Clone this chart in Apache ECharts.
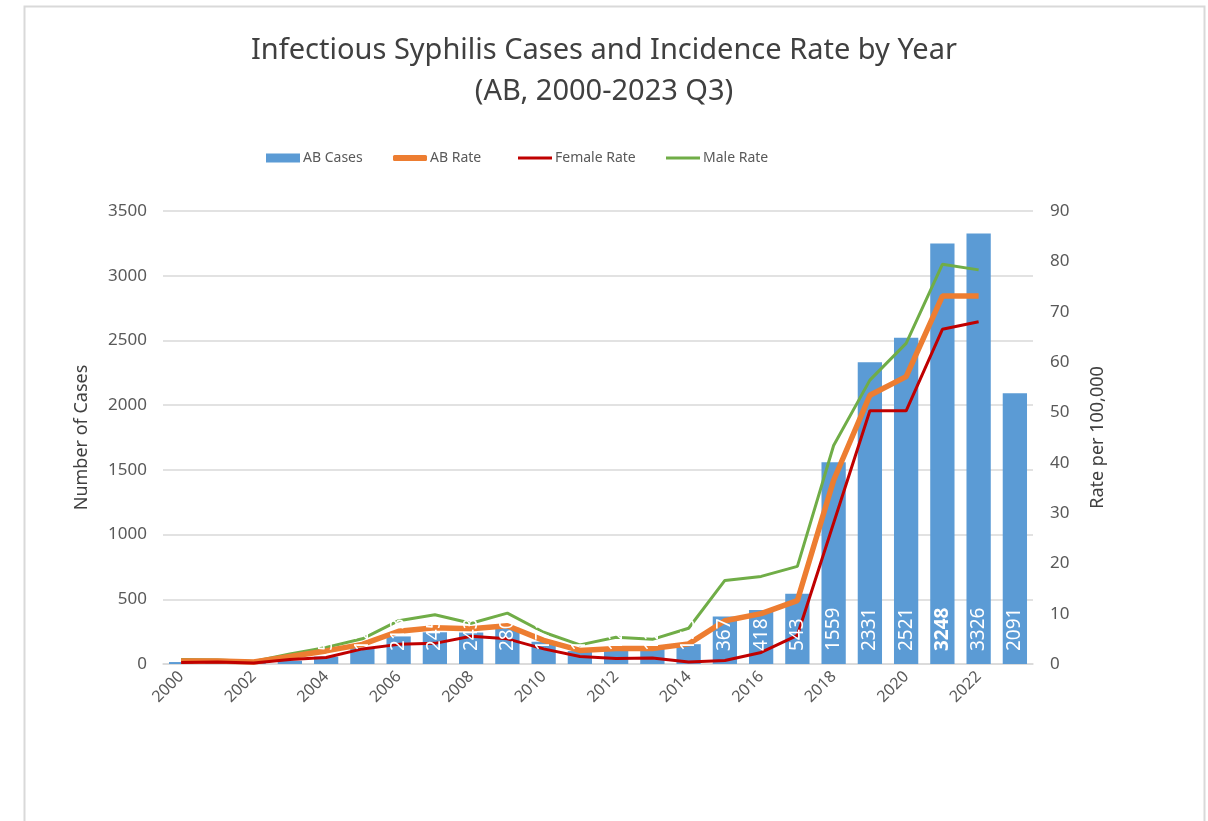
<!DOCTYPE html>
<html>
<head>
<meta charset="utf-8">
<script src="https://cdn.jsdelivr.net/npm/echarts@6/dist/echarts.min.js"></script>
<style>
html,body{margin:0;padding:0;background:#fff;}
#c{width:1208px;height:821px;}
</style>
</head>
<body>
<div id="c"></div>
<script>
const years = ['2000','2001','2002','2003','2004','2005','2006','2007','2008','2009','2010','2011','2012','2013','2014','2015','2016','2017','2018','2019','2020','2021','2022','2023'];
const abCases = [15,15,10,25,57,125,213,245,243,280,172,100,125,125,153,367,418,543,1559,2331,2521,3248,3326,2091];
const abRate = [0.6,0.6,0.4,1.5,2.6,3.9,6.5,7.2,7.0,7.6,4.7,2.7,3.1,3.1,4.0,8.6,10.0,12.6,36.5,53.4,57.1,73.1,73.1,null];
const femaleRate = [0.3,0.4,0.2,0.9,1.3,3.0,3.9,4.1,5.5,5.0,3.0,1.5,1.1,1.2,0.4,0.7,2.3,5.7,28.0,50.3,50.3,66.5,68.0,null];
const maleRate = [0.9,0.8,0.5,2.0,3.3,5.0,8.6,9.8,8.1,10.1,6.3,3.8,5.3,4.9,7.1,16.6,17.4,19.4,43.4,56.4,63.7,79.4,78.3,null];
const boldLabelYear = '2021';

const FONT = "'Noto Sans',sans-serif";
const chart = echarts.init(document.getElementById('c'), null, {renderer:'canvas'});

const labelData = abCases.map((v, i) => years[i] === boldLabelYear
  ? {value: v, label: {fontWeight: 'bold'}} : v);

const legendText = {fontFamily: FONT, fontSize: 14, color: '#595959', padding: [0,0,0,-2]};
function mkLegend(name, left, icon, h) {
  return {
    left: left, top: 151, icon: icon, itemWidth: 34, itemHeight: h, padding: 0,
    textStyle: legendText, data: [name], selectedMode: false
  };
}

chart.setOption({
  backgroundColor: '#fff',
  animation: false,
  textStyle: {fontFamily: FONT},
  title: {
    text: 'Infectious Syphilis Cases and Incidence Rate by Year\n(AB, 2000-2023 Q3)',
    left: 'center', top: 25,
    textStyle: {fontFamily: FONT, fontSize: 29, fontWeight: 'normal', color: '#404040', lineHeight: 41}
  },
  graphic: [{
    type: 'rect', left: 22, top: 4, z: -1, silent: true,
    shape: {width: 1180, height: 840},
    style: {fill: 'none', stroke: '#d9d9d9', lineWidth: 2}
  }],
  legend: [
    mkLegend('AB Cases', 266, 'rect', 9),
    mkLegend('AB Rate', 393, 'roundRect', 6),
    mkLegend('Female Rate', 518, 'rect', 3),
    mkLegend('Male Rate', 666, 'rect', 3)
  ],
  grid: {left: 163, right: 175, top: 211, bottom: 157, containLabel: false},
  xAxis: {
    type: 'category', data: years,
    axisLine: {lineStyle: {color: '#d9d9d9', width: 1.5}},
    axisTick: {show: false},
    axisLabel: {interval: 1, rotate: 45, fontSize: 16, color: '#595959', margin: 10, fontFamily: FONT}
  },
  yAxis: [{
    type: 'value', min: 0, max: 3500, interval: 500,
    name: 'Number of Cases', nameLocation: 'middle', nameGap: 72, nameRotate: 90,
    nameTextStyle: {fontSize: 18, color: '#404040', fontFamily: FONT},
    axisLine: {show: false}, axisTick: {show: false},
    axisLabel: {fontSize: 17, color: '#595959', margin: 16, fontFamily: FONT, formatter: v => String(v)},
    splitLine: {lineStyle: {color: '#d9d9d9', width: 1.5}}
  }, {
    type: 'value', min: 0, max: 90, interval: 10,
    name: 'Rate per 100,000', nameLocation: 'middle', nameGap: 56, nameRotate: 90,
    nameTextStyle: {fontSize: 18, color: '#404040', fontFamily: FONT},
    axisLine: {show: false}, axisTick: {show: false},
    axisLabel: {fontSize: 17, color: '#595959', margin: 17, fontFamily: FONT, formatter: v => String(v)},
    splitLine: {show: false}
  }],
  series: [{
    name: 'AB Cases', type: 'bar', data: abCases, yAxisIndex: 0,
    barCategoryGap: '33%', z: 2,
    itemStyle: {color: '#5b9bd5'}
  }, {
    name: 'AB Rate', type: 'line', data: abRate, yAxisIndex: 1,
    symbol: 'none', z: 4,
    lineStyle: {color: '#ed7d31', width: 5.5},
    itemStyle: {color: '#ed7d31'}
  }, {
    name: 'Female Rate', type: 'line', data: femaleRate, yAxisIndex: 1,
    symbol: 'none', z: 4,
    lineStyle: {color: '#c00000', width: 3},
    itemStyle: {color: '#c00000'}
  }, {
    name: 'Male Rate', type: 'line', data: maleRate, yAxisIndex: 1,
    symbol: 'none', z: 3,
    lineStyle: {color: '#70ad47', width: 3},
    itemStyle: {color: '#70ad47'}
  }, {
    name: 'labels', type: 'bar', data: labelData, yAxisIndex: 0,
    barCategoryGap: '33%', barGap: '-100%', z: 6, silent: true,
    itemStyle: {color: 'rgba(0,0,0,0)'},
    label: {
      show: true, position: 'insideBottom', rotate: 90, align: 'left', verticalAlign: 'middle',
      distance: 13, color: '#ffffff', fontSize: 19, fontFamily: FONT
    }
  }]
});
</script>
</body>
</html>
